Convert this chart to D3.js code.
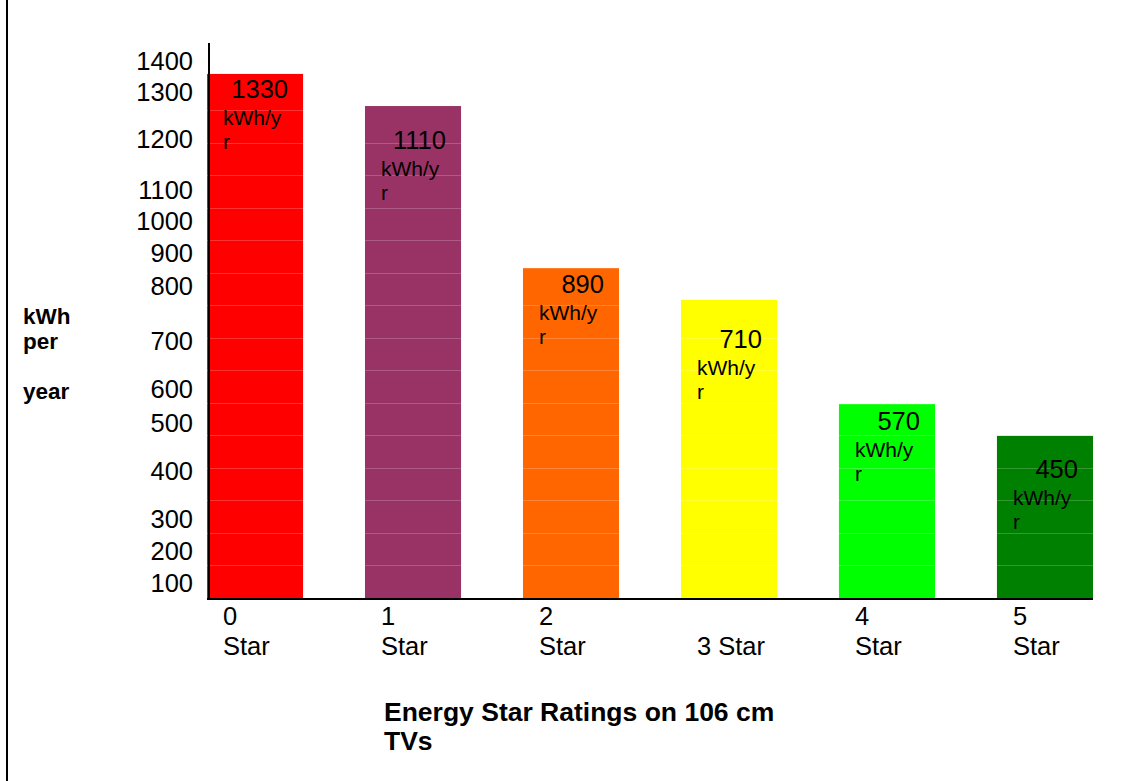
<!DOCTYPE html>
<html><head><meta charset="utf-8">
<script src="https://cdn.jsdelivr.net/npm/d3@7"></script>
<style>
html,body{margin:0;padding:0;background:#fff;}
svg{display:block;font-family:"Liberation Sans",Arial,sans-serif;}
</style></head>
<body>
<script>
// ---- data ----
const categories = ["0 Star","1 Star","2 Star","3 Star","4 Star","5 Star"];
const barValues = [1322, 1241, 832, 752, 489, 409];      // bar heights as drawn (axis units)
const labelValues = [1330, 1110, 890, 710, 570, 450];    // printed labels
const colors = ["#FF0000","#993366","#FF6600","#FFFF00","#00FF00","#008000"];
const tickValues = [1400,1300,1200,1100,1000,900,800,700,600,500,400,300,200,100];
const xLabelLines = [["0","Star"],["1","Star"],["2","Star"],["3 Star"],["4","Star"],["5","Star"]];
const yTitleLines = ["kWh","per","year"];
const xTitleLines = ["Energy Star Ratings on 106 cm","TVs"];

// ---- layout ----
const W = 1146, H = 781;
const svg = d3.select("body").append("svg").attr("width", W).attr("height", H);

const x = d3.scaleBand().domain(categories).range([207, 1093]).paddingInner(0.392).paddingOuter(0);
const y = d3.scaleLinear().domain([0, 1400]).range([598, 43]);
// tick labels in the source are unevenly spaced; this piecewise scale places them
const yTick = d3.scaleLinear().domain(tickValues)
  .range([61, 92, 139, 190, 221, 253, 286, 341, 389, 423, 471, 519, 551, 583]);
// label offsets below each bar top (source layout)
const numOffset = [24, 43, 25, 48, 26, 42];

// left border
svg.append("line").attr("x1",7).attr("x2",7).attr("y1",0).attr("y2",H)
  .attr("stroke","#000").attr("stroke-width",2);

// bars
const g = svg.append("g");
g.selectAll("rect.bar").data(categories).join("rect")
  .attr("class","bar")
  .attr("x", d => x(d))
  .attr("y", (d,i) => y(barValues[i]))
  .attr("width", x.bandwidth())
  .attr("height", (d,i) => y(0) - y(barValues[i]))
  .attr("fill", (d,i) => colors[i]);

// faint gridline artifacts across bars
const gridVals = d3.range(82, 1400, 82);
categories.forEach((c,i) => {
  gridVals.filter(v => v < barValues[i] - 20).forEach(v => {
    g.append("line")
      .attr("x1", x(c)).attr("x2", x(c) + x.bandwidth())
      .attr("y1", Math.round(y(v)) + 0.5).attr("y2", Math.round(y(v)) + 0.5)
      .attr("stroke", "#fff").attr("stroke-opacity", 0.2).attr("stroke-width", 1);
  });
});

// value labels
categories.forEach((c,i) => {
  const top = y(barValues[i]);
  const bx = x(c);
  g.append("text").attr("x", bx + 81).attr("y", top + numOffset[i])
    .attr("text-anchor","end").attr("font-size", 25.5).attr("fill","#000")
    .text(labelValues[i]);
  g.append("text").attr("x", bx + 16).attr("y", top + numOffset[i] + 27)
    .attr("font-size", 21).attr("fill","#000").text("kWh/y");
  g.append("text").attr("x", bx + 16).attr("y", top + numOffset[i] + 51)
    .attr("font-size", 21).attr("fill","#000").text("r");
});

// y axis
const yAxis = svg.append("g").attr("transform","translate(193,0)")
  .call(d3.axisLeft(yTick).tickValues(tickValues).tickFormat(d3.format("d")).tickSize(0).tickPadding(0));
yAxis.select(".domain").remove();
yAxis.selectAll("text").attr("font-size", 25.5).attr("font-family","Liberation Sans, Arial, sans-serif")
  .attr("fill","#000").attr("dy","0.35em");
svg.append("line").attr("x1",209).attr("x2",209).attr("y1",43).attr("y2",599)
  .attr("stroke","#000").attr("stroke-width",2);

// x axis
svg.append("line").attr("x1",207).attr("x2",1093).attr("y1",599).attr("y2",599)
  .attr("stroke","#000").attr("stroke-width",2);
categories.forEach((c,i) => {
  const lines = xLabelLines[i];
  const t = svg.append("text").attr("font-size",25.5).attr("fill","#000");
  if (lines.length === 1) {
    t.append("tspan").attr("x", x(c) + 16).attr("y", 655).text(lines[0]);
  } else {
    lines.forEach((l,k) => t.append("tspan").attr("x", x(c) + 16).attr("y", 625 + k*30).text(l));
  }
});

// axis titles
const yt = svg.append("text").attr("font-size",22.5).attr("font-weight","bold").attr("fill","#000");
[324, 349, 399].forEach((yy,k) => yt.append("tspan").attr("x",23).attr("y",yy).text(yTitleLines[k]));
const xt = svg.append("text").attr("font-size",26.5).attr("font-weight","bold").attr("fill","#000");
xTitleLines.forEach((l,k) => xt.append("tspan").attr("x",384).attr("y",721 + k*29).text(l));
</script>
</body></html>
